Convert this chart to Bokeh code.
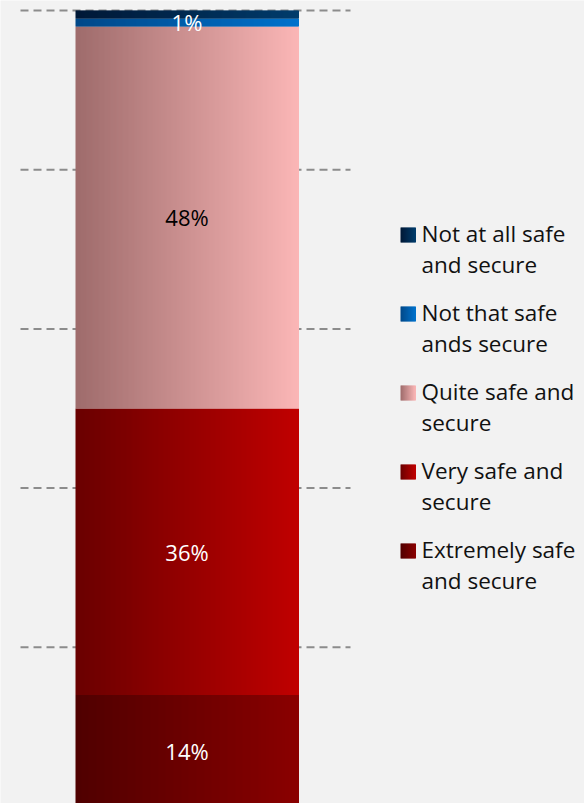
from bokeh.plotting import figure
from bokeh.models import Range1d, ColumnDataSource
from bokeh.core.properties import value
from bokeh.embed import file_html
from bokeh.resources import INLINE
import numpy as np

# ---- data ----
categories = ["Extremely safe and secure", "Very safe and secure",
              "Quite safe and secure", "Not that safe ands secure",
              "Not at all safe and secure"]
shares = [14, 36, 48, 1, 1]
labels = ["14%", "36%", "48%", "1%", ""]
legend_lines = [["Not at all safe", "and secure"],
                ["Not that safe", "ands secure"],
                ["Quite safe and", "secure"],
                ["Very safe and", "secure"],
                ["Extremely safe", "and secure"]]
grid_ticks = [20, 40, 60, 80, 100]

# ---- styles ----
grad = {
    "Extremely safe and secure": ((0x50, 0x00, 0x00), (0x8a, 0x00, 0x00)),
    "Very safe and secure": ((0x6a, 0x00, 0x00), (0xc0, 0x00, 0x00)),
    "Quite safe and secure": ((0x9e, 0x6c, 0x6c), (0xfb, 0xb6, 0xb6)),
    "Not that safe ands secure": ((0x00, 0x48, 0x88), (0x00, 0x72, 0xcc)),
    "Not at all safe and secure": ((0x00, 0x18, 0x36), (0x00, 0x3c, 0x6c)),
}
label_colors = ["white", "white", "black", "white", "white"]

W, H = 584, 803
PX_PER_UNIT = 7.96
ZERO_PY = 806.0  # pixel row of 0%


def y_of(py):
    return (ZERO_PY - py) / PX_PER_UNIT


p = figure(width=W, height=H, output_backend="svg", toolbar_location=None,
           x_range=Range1d(0, W), y_range=Range1d(y_of(H), y_of(0)),
           min_border=0)
p.background_fill_color = "#f2f2f2"
p.border_fill_color = "#f2f2f2"
p.outline_line_color = None
p.axis.visible = False
p.grid.visible = False


def hexc(c):
    return "#%02x%02x%02x" % tuple(int(round(v)) for v in c)


# gridlines
p.segment(x0=[20] * len(grid_ticks), x1=[350] * len(grid_ticks),
          y0=grid_ticks, y1=grid_ticks, line_color="#8c8c8c",
          line_width=2, line_dash="8 5")

bar_left, bar_right = 75, 298
N = bar_right - bar_left
edges = np.linspace(bar_left, bar_right, N + 1)
bottoms = np.concatenate([[0], np.cumsum(shares)[:-1]])
tops = np.cumsum(shares)

for cat, b, t in zip(categories, bottoms, tops):
    c0, c1 = grad[cat]
    fr = (np.arange(N) + 0.5) / N
    cols = [hexc(np.array(c0) + (np.array(c1) - np.array(c0)) * f) for f in fr]
    src = ColumnDataSource(dict(left=edges[:-1], right=edges[1:] + 0.5,
                                bottom=[b] * N, top=[t] * N, color=cols))
    p.quad(left="left", right="right", bottom="bottom", top="top",
           fill_color="color", line_color=None, source=src)

# value labels
mid = [(b + t) / 2 for b, t in zip(bottoms, tops)]
p.text(x=[(bar_left + bar_right) / 2] * len(labels), y=mid, text=labels,
       text_color=label_colors, text_align="center", text_baseline="middle",
       text_font=value("Open Sans"), text_font_size="22px")

# legend (top to bottom order)
leg_cats = list(reversed(categories))
base0 = 242
step = 79
for i, (cat, lines) in enumerate(zip(leg_cats, legend_lines)):
    bl = base0 + i * step
    c0, c1 = grad[cat]
    n = 15
    xs = np.linspace(400, 415, n + 1)
    cols = [hexc(np.array(c0) + (np.array(c1) - np.array(c0)) * ((k + 0.5) / n)) for k in range(n)]
    p.quad(left=xs[:-1], right=xs[1:] + 0.5, bottom=[y_of(bl)] * n,
           top=[y_of(bl - 15)] * n, fill_color=cols, line_color=None)
    p.text(x=[421, 421], y=[y_of(bl - 9), y_of(bl - 9 + 31)], text=lines,
           text_color="#111111", text_align="left", text_baseline="alphabetic",
           text_font=value("Open Sans"), text_font_size="22.5px")

open("out.html", "w").write(file_html(p, INLINE))
